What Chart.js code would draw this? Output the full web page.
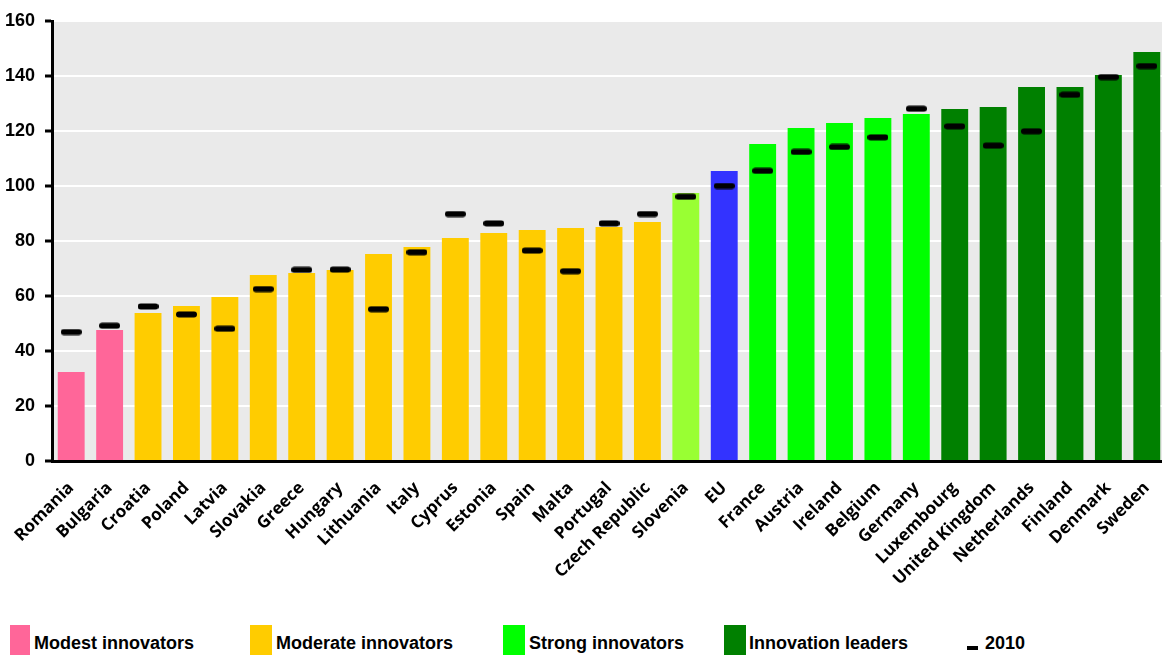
<!DOCTYPE html>
<html>
<head>
<meta charset="utf-8">
<script src="https://cdn.jsdelivr.net/npm/chart.js@4"></script>
<style>
  html, body { margin: 0; padding: 0; background: #fff; overflow: hidden; width: 1162px; height: 655px; }
  #wrap { position: relative; width: 1162px; height: 655px; overflow: hidden; }
  #chart { position: absolute; left: 0; top: 0; }
  .leg { position: absolute; top: 625px; height: 30px; }
  .lt { position: absolute; top: 633px; font: bold 18px "Liberation Sans", Arial, sans-serif; color: #000; white-space: nowrap; }
</style>
</head>
<body>
<div id="wrap">
  <canvas id="chart" width="1171" height="620"></canvas>
  <div class="leg" style="left:10px;width:20px;background:#FF6699"></div>
  <div class="lt" style="left:34px">Modest innovators</div>
  <div class="leg" style="left:250px;width:22px;background:#FFCC00"></div>
  <div class="lt" style="left:276px">Moderate innovators</div>
  <div class="leg" style="left:503px;width:22px;background:#00FF00"></div>
  <div class="lt" style="left:529px">Strong innovators</div>
  <div class="leg" style="left:724px;width:22px;background:#008000"></div>
  <div class="lt" style="left:749px">Innovation leaders</div>
  <div style="position:absolute;left:967px;top:646px;width:11px;height:4px;background:#000"></div>
  <div class="lt" style="left:985px">2010</div>
</div>
<script>
// data
const countries = ["Romania", "Bulgaria", "Croatia", "Poland", "Latvia", "Slovakia", "Greece",
  "Hungary", "Lithuania", "Italy", "Cyprus", "Estonia", "Spain", "Malta", "Portugal",
  "Czech Republic", "Slovenia", "EU", "France", "Austria", "Ireland", "Belgium", "Germany",
  "Luxembourg", "United Kingdom", "Netherlands", "Finland", "Denmark", "Sweden"];
const groups = ["modest", "modest", "moderate", "moderate", "moderate", "moderate", "moderate",
  "moderate", "moderate", "moderate", "moderate", "moderate", "moderate", "moderate", "moderate",
  "moderate", "slovenia", "eu", "strong", "strong", "strong", "strong", "strong",
  "leader", "leader", "leader", "leader", "leader", "leader"];
const current = [32.4, 47.6, 53.8, 56.4, 59.6, 67.6, 68.4, 69.5, 75.3, 77.8, 81.1, 82.9, 84.0,
  84.7, 85.1, 86.9, 97.5, 105.5, 115.3, 121.1, 122.9, 124.7, 126.2, 128.0, 128.7, 136.0,
  136.0, 140.4, 148.7];
const year2010 = [46.9, 49.2, 56.2, 53.3, 48.1, 62.5, 69.5, 69.6, 55.2, 75.9, 89.8, 86.4, 76.5,
  69.0, 86.4, 89.8, 96.1, 100, 105.5, 112.4, 114.2, 117.7, 128.1, 121.7, 114.7, 119.9,
  133.2, 139.6, 143.6];
const yTicks = [0, 20, 40, 60, 80, 100, 120, 140, 160];

const groupColors = {
  modest: "#FF6699", moderate: "#FFCC00", slovenia: "#99FF33", eu: "#3333FF",
  strong: "#00FF00", leader: "#008000"
};

// rounded black dash used for the 2010 marks
const dash = document.createElement("canvas");
dash.width = 21; dash.height = 7;
const dctx = dash.getContext("2d");
dctx.fillStyle = "#000";
dctx.beginPath();
dctx.roundRect(0, 0.5, 21, 6, 3);
dctx.fill();

const plotBg = {
  id: "plotBg",
  beforeDraw(chart) {
    const a = chart.chartArea;
    const c = chart.ctx;
    c.save();
    c.fillStyle = "#EAEAEA";
    c.fillRect(a.left, a.top, a.right - a.left, a.bottom - a.top);
    c.restore();
  }
};

new Chart(document.getElementById("chart"), {
  type: "bar",
  data: {
    labels: countries,
    datasets: [
      {
        type: "line",
        label: "2010",
        data: year2010,
        showLine: false,
        pointStyle: dash,
        order: 0
      },
      {
        label: "Index",
        data: current,
        backgroundColor: groups.map(g => groupColors[g]),
        barPercentage: 0.7,
        categoryPercentage: 1.0,
        order: 1
      }
    ]
  },
  options: {
    responsive: false,
    animation: false,
    devicePixelRatio: 1,
    layout: { padding: { top: 21, left: 0, right: 0, bottom: 0 } },
    plugins: {
      legend: { display: false },
      tooltip: { enabled: false }
    },
    scales: {
      x: {
        grid: { display: false },
        border: { color: "#000", width: 3 },
        ticks: {
          color: "#000",
          minRotation: 45,
          maxRotation: 45,
          autoSkip: false,
          padding: 9,
          font: { family: "'Open Sans', sans-serif", weight: "bold", size: 17 }
        },
        afterFit(scale) { scale.height = 159; }
      },
      y: {
        min: 0,
        max: 160,
        afterBuildTicks(scale) { scale.ticks = yTicks.map(v => ({ value: v })); },
        grid: { color: "#FFFFFF", lineWidth: 2, tickColor: "#000", tickLength: 7, tickWidth: 3 },
        border: { color: "#000", width: 3 },
        ticks: {
          color: "#000",
          padding: 10,
          font: { family: "'Liberation Sans', Arial, sans-serif", weight: "bold", size: 18 }
        },
        afterFit(scale) { scale.width = 52; }
      }
    }
  },
  plugins: [plotBg]
});
</script>
</body>
</html>
